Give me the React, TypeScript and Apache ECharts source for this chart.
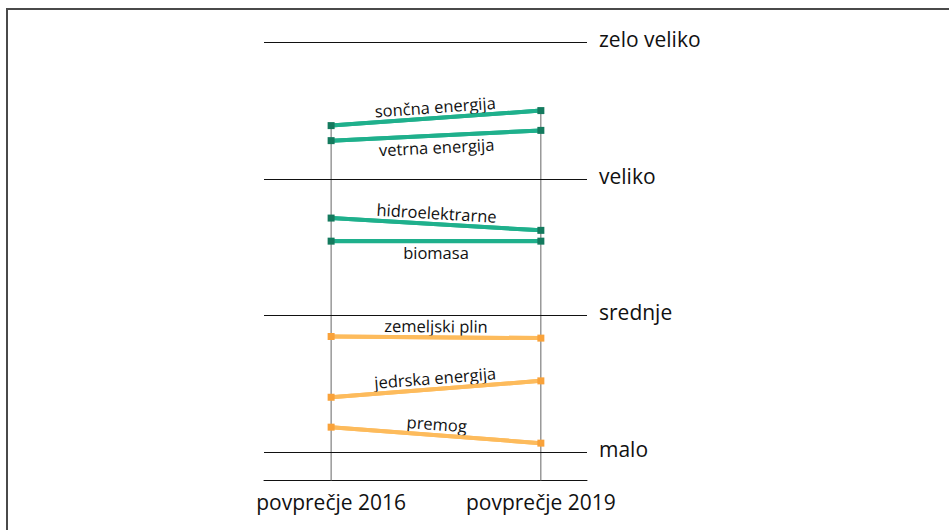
import React, { useEffect, useRef } from "react";
import * as echarts from "echarts";

const categories = ["povprečje 2016", "povprečje 2019"];
const levelLabels = ["malo", "srednje", "veliko", "zelo veliko"];
const levelValues = [1, 2, 3, 4];

const renewableNames = ["sončna energija", "vetrna energija", "hidroelektrarne", "biomasa"];
const soncna = [3.39, 3.5];
const vetrna = [3.28, 3.355];
const hidro = [2.713, 2.623];
const biomasa = [2.544, 2.544];

const fossilNames = ["zemeljski plin", "jedrska energija", "premog"];
const plin = [1.846, 1.834];
const jedrska = [1.401, 1.521];
const premog = [1.182, 1.065];

const renewableValues = [soncna, vetrna, hidro, biomasa];
const fossilValues = [plin, jedrska, premog];
const renewableLabelSide = ["top", "bottom", "top", "bottom"];
const fossilLabelSide = ["top", "top", "top"];

const Y_MIN = 0.79;
const Y_MAX = 4;
const X_MIN = -0.32;
const X_MAX = 1.22;

const FONT = "Open Sans";

function buildSeries(names: string[], values: number[][], sides: string[], lineColor: string, markerColor: string) {
  return names.map((name, i) => {
    const v = values[i];
    const pts = v.map((y, x) => [x, y]);
    return {
      type: "line",
      name,
      data: pts,
      z: 5,
      symbol: "rect",
      symbolSize: 7,
      itemStyle: { color: markerColor },
      lineStyle: { color: lineColor, width: 4 },
      markLine: {
        silent: true,
        symbol: "none",
        z: 4,
        lineStyle: { color: lineColor, width: 4, type: "solid" },
        label: {
          show: true,
          position: sides[i] === "top" ? "insideMiddleTop" : "insideMiddleBottom",
          formatter: name,
          color: "#111",
          fontSize: 16.5,
          fontFamily: FONT,
          distance: 3,
        },
        emphasis: { disabled: true },
        data: [[{ coord: pts[0] }, { coord: pts[1] }]],
      },
    };
  });
}

export default function App() {
  const ref = useRef<HTMLDivElement>(null);
  useEffect(() => {
    if (!ref.current) return;
    const chart = echarts.init(ref.current, null, { renderer: "svg" });
    const allValues = [...renewableValues, ...fossilValues];
    const verticalSeries = categories.map((c, x) => {
      const top = Math.max(...allValues.map((v) => v[x]));
      return {
        type: "line",
        name: c,
        data: [
          [x, Y_MIN],
          [x, top],
        ],
        symbol: "none",
        z: 1,
        lineStyle: { color: "#666", width: 1 },
        silent: true,
      };
    });
    const levelSeries = {
      type: "line",
      name: "levels",
      data: [],
      markLine: {
        silent: true,
        symbol: "none",
        lineStyle: { color: "#111", width: 1, type: "solid" },
        label: {
          show: true,
          position: "end",
          formatter: "{b}",
          color: "#111",
          fontSize: 21,
          fontFamily: FONT,
          distance: 12,
          offset: [0, -3],
        },
        data: levelValues.map((y, i) => ({ yAxis: y, name: levelLabels[i] })),
      },
    };
    chart.setOption({
      animation: false,
      textStyle: { fontFamily: FONT },
      grid: { left: 264, right: 362, top: 42.3, bottom: 49.3 },
      xAxis: {
        type: "value",
        min: X_MIN,
        max: X_MAX,
        splitLine: { show: false },
        axisTick: { show: false },
        axisLine: { show: true, lineStyle: { color: "#111", width: 1 } },
        axisLabel: {
          customValues: [0, 1],
          formatter: (v: number) => {
            if (Math.abs(v) < 1e-9) return categories[0];
            if (Math.abs(v - 1) < 1e-9) return categories[1];
            return "";
          },
          color: "#111",
          fontSize: 21,
          fontFamily: FONT,
          margin: 11,
        },
      },
      yAxis: {
        type: "value",
        min: Y_MIN,
        max: Y_MAX,
        show: false,
        splitLine: { show: false },
      },
      graphic: [
        { type: "line", shape: { x1: 6, y1: 9, x2: 949, y2: 9 }, style: { stroke: "#4a4a4a", lineWidth: 2 } },
        { type: "line", shape: { x1: 7, y1: 8, x2: 7, y2: 530 }, style: { stroke: "#4a4a4a", lineWidth: 2 } },
      ],
      series: [
        ...verticalSeries,
        levelSeries,
        ...buildSeries(renewableNames, renewableValues, renewableLabelSide, "#1fb08c", "#147a5e"),
        ...buildSeries(fossilNames, fossilValues, fossilLabelSide, "#fdbb5c", "#f9a23a"),
      ],
    });
    return () => chart.dispose();
  }, []);
  return (
    <div
      ref={ref}
      style={{ position: "absolute", left: 0, top: 0, width: 949, height: 530, background: "#fff" }}
    />
  );
}
